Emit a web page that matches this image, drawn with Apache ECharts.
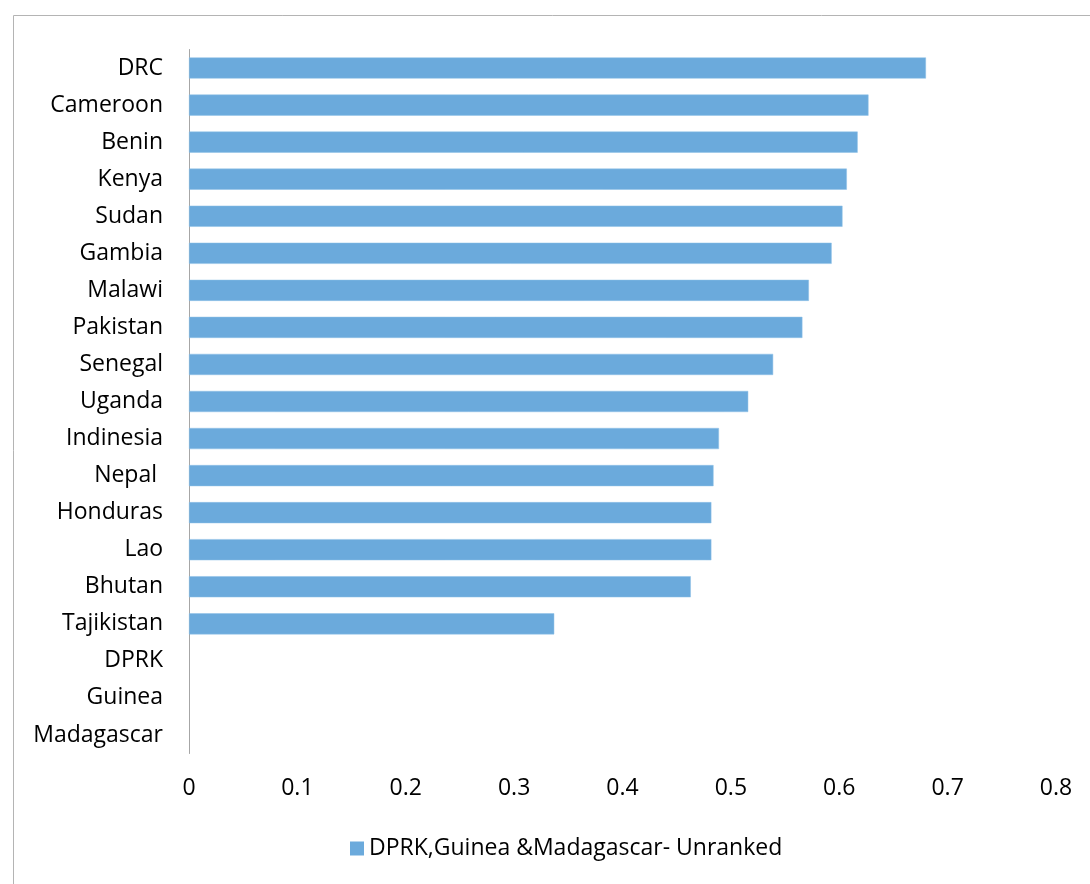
<!DOCTYPE html>
<html>
<head>
<meta charset="utf-8">
<script src="https://cdn.jsdelivr.net/npm/echarts@6/dist/echarts.min.js"></script>
<style>
    html, body { margin: 0; padding: 0; background: #fff; }
    #chart { width: 1090px; height: 884px; }
</style>
</head>
<body>
<div id="chart"></div>
<script>
const countries = ['DRC', 'Cameroon', 'Benin', 'Kenya', 'Sudan', 'Gambia', 'Malawi', 'Pakistan', 'Senegal',
    'Uganda', 'Indinesia', 'Nepal ', 'Honduras', 'Lao', 'Bhutan', 'Tajikistan', 'DPRK', 'Guinea', 'Madagascar'];
const scores = [0.680, 0.627, 0.617, 0.607, 0.603, 0.593, 0.572, 0.566, 0.539,
    0.516, 0.489, 0.484, 0.482, 0.482, 0.463, 0.337, null, null, null];
const xTicks = [0, 0.1, 0.2, 0.3, 0.4, 0.5, 0.6, 0.7, 0.8];
const seriesName = 'DPRK,Guinea &Madagascar- Unranked';

const fontFamily = '"Open Sans", sans-serif';
const chart = echarts.init(document.getElementById('chart'));

chart.setOption({
    animation: false,
    textStyle: { fontFamily: fontFamily },
    graphic: [{
        type: 'rect',
        shape: { x: 13.5, y: 15.5, width: 1100, height: 900 },
        style: { fill: 'none', stroke: '#b4b4b4', lineWidth: 1 }
    }],
    grid: { left: 189, right: 34, top: 49.5, bottom: 130.5 },
    legend: {
        data: [{ name: seriesName, icon: 'rect' }],
        left: 345,
        top: 832,
        itemWidth: 14,
        itemHeight: 14,
        itemGap: 8,
        itemStyle: { borderWidth: 0 },
        textStyle: { fontSize: 23, color: '#000', fontFamily: fontFamily, padding: [4, 0, 0, 0] }
    },
    xAxis: {
        type: 'value',
        min: xTicks[0],
        max: xTicks[xTicks.length - 1],
        interval: 0.1,
        axisLine: { show: false },
        axisTick: { show: false },
        splitLine: { show: false },
        axisLabel: {
            fontSize: 23,
            color: '#000',
            margin: 23,
            formatter: (v) => String(Math.round(v * 10) / 10)
        }
    },
    yAxis: {
        type: 'category',
        data: countries,
        inverse: true,
        axisLine: { lineStyle: { color: '#a6a6a6', width: 1 } },
        axisTick: { show: false },
        axisLabel: { fontSize: 23, color: '#000', margin: 26, padding: [9, 0, 0, 0] }
    },
    series: [{
        name: seriesName,
        type: 'bar',
        data: scores,
        barCategoryGap: '43%',
        itemStyle: { color: '#6baadc', borderColor: '#8ec0e6', borderWidth: 0.5 }
    }]
});
</script>
</body>
</html>
